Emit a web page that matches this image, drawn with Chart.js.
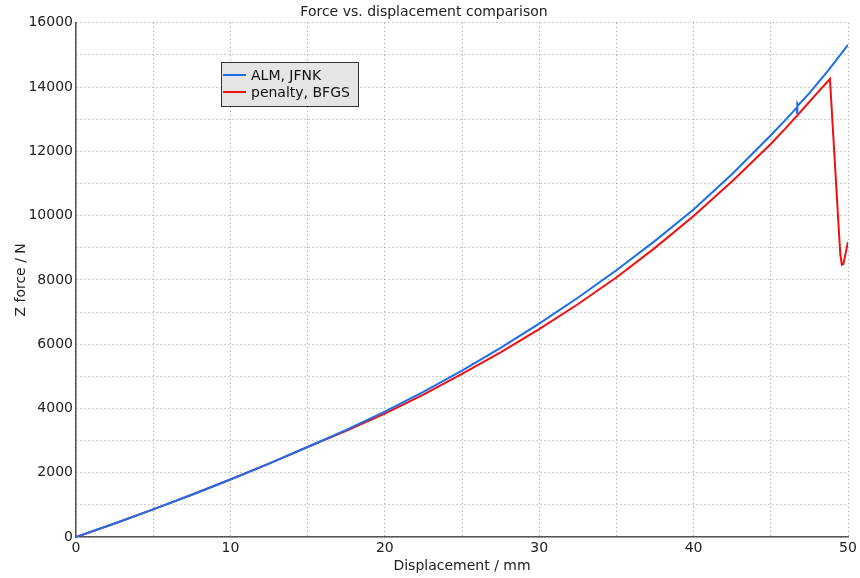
<!DOCTYPE html>
<html lang="en">
  <head>
    <meta charset="UTF-8" />
    <title>Force vs. displacement comparison</title>
    <script src="https://cdn.jsdelivr.net/npm/chart.js"></script>
    <style>
      html, body { margin: 0; padding: 0; background: #fff; }
      canvas { display: block; }
    </style>
  </head>
  <body>
    <canvas id="forceChart" width="860" height="578"></canvas>

    <script>
      // values
      const dispAlm = [0, 2.5, 5, 7.5, 10, 12.5, 15, 17.5, 20, 22.5, 25, 27.5, 30, 32.5, 35, 37.5, 40, 42.5, 45, 46, 46.68, 46.7, 46.72, 46.78, 47.5, 48.75, 50];
      const forceAlm = [0, 420, 860, 1315, 1790, 2284, 2800, 3335, 3900, 4518, 5180, 5887, 6640, 7444, 8300, 9215, 10190, 11295, 12500, 13004, 13360, 13200, 13490, 13440, 13813, 14534, 15310];

      const dispPenalty = [0, 2.5, 5, 7.5, 10, 12.5, 15, 17.5, 20, 22.5, 25, 27.5, 30, 32.5, 35, 37.5, 40, 42.5, 45, 46, 47, 48, 48.83, 49.4, 49.5, 49.6, 49.7, 50];
      const forcePenalty = [0, 420, 860, 1315, 1790, 2284, 2800, 3300, 3840, 4432, 5075, 5747, 6470, 7242, 8075, 8997, 9990, 11070, 12230, 12740, 13270, 13810, 14250, 9600, 8800, 8470, 8490, 9180];

      const seriesNames = ["ALM, JFNK", "penalty, BFGS"];
      const xMax = 50;
      const yMax = 16000;

      const tickFont = { family: "'DejaVu Sans', sans-serif", size: 14, weight: "normal" };
      const labelFont = { family: "'DejaVu Sans', sans-serif", size: 14, weight: "normal" };
      const textColor = "#222";

      function toPoints(xs, ys) {
        return xs.map((x, i) => ({ x: x, y: ys[i] }));
      }

      // legend box drawn inside the plot, like the original
      const boxLegend = {
        id: "boxLegend",
        afterDraw(chart) {
          const c = chart.ctx;
          const x0 = 221, y0 = 62, w = 137, h = 44;
          c.save();
          c.fillStyle = "#e5e5e5";
          c.fillRect(x0, y0, w, h);
          c.strokeStyle = "#333";
          c.lineWidth = 1;
          c.strokeRect(x0 + 0.5, y0 + 0.5, w, h);
          c.font = "14px 'DejaVu Sans', sans-serif";
          c.textBaseline = "middle";
          chart.data.datasets.forEach((ds, i) => {
            const y = y0 + 13 + i * 17;
            c.strokeStyle = ds.borderColor;
            c.lineWidth = 2;
            c.beginPath();
            c.moveTo(x0 + 2, y);
            c.lineTo(x0 + 25, y);
            c.stroke();
            c.fillStyle = "#111";
            c.fillText(ds.label, x0 + 30, y + 1);
          });
          c.restore();
        },
      };

      const dotted = {
        color: "#999",
        lineWidth: 1,
        drawTicks: false,
      };
      // in v4 the border dash applies to the grid lines, the axis line stays solid
      const axisBorder = { display: true, color: "#555", width: 1.5, dash: [1, 3] };

      const ctx = document.getElementById("forceChart").getContext("2d");
      new Chart(ctx, {
        type: "line",
        data: {
          datasets: [
            {
              label: seriesNames[0],
              data: toPoints(dispAlm, forceAlm),
              borderColor: "rgb(28, 110, 236)",
              borderWidth: 2,
              pointRadius: 0,
              tension: 0,
            },
            {
              label: seriesNames[1],
              data: toPoints(dispPenalty, forcePenalty),
              borderColor: "rgb(240, 16, 16)",
              borderWidth: 2,
              pointRadius: 0,
              tension: 0,
            },
          ],
        },
        options: {
          responsive: false,
          animation: false,
          layout: { padding: { left: 0, right: 12, top: 0, bottom: 0 } },
          plugins: {
            legend: { display: false },
            tooltip: { enabled: false },
            title: {
              display: true,
              text: "Force vs. displacement comparison",
              color: textColor,
              font: labelFont,
              padding: { top: 4, bottom: 2 },
            },
          },
          scales: {
            x: {
              type: "linear",
              min: 0,
              max: xMax,
              grid: dotted,
              border: axisBorder,
              ticks: {
                stepSize: 5,
                padding: 3,
                color: textColor,
                font: tickFont,
                maxRotation: 0,
                callback: (v) => (v % 10 === 0 ? v : ""),
              },
              title: {
                display: true,
                text: "Displacement / mm",
                color: textColor,
                font: labelFont,
                padding: { top: 0, bottom: 3 },
              },
              afterFit: (s) => { s.height = 41; },
            },
            y: {
              min: 0,
              max: yMax,
              grid: dotted,
              border: axisBorder,
              ticks: {
                stepSize: 1000,
                padding: 3,
                color: textColor,
                font: tickFont,
                callback: (v) => (v % 2000 === 0 ? v : ""),
              },
              title: {
                display: true,
                text: "Z force / N",
                color: textColor,
                font: labelFont,
                padding: { top: 13, bottom: 0 },
              },
              afterFit: (s) => { s.width = 76; },
            },
          },
        },
        plugins: [boxLegend],
      });
    </script>
  </body>
</html>
